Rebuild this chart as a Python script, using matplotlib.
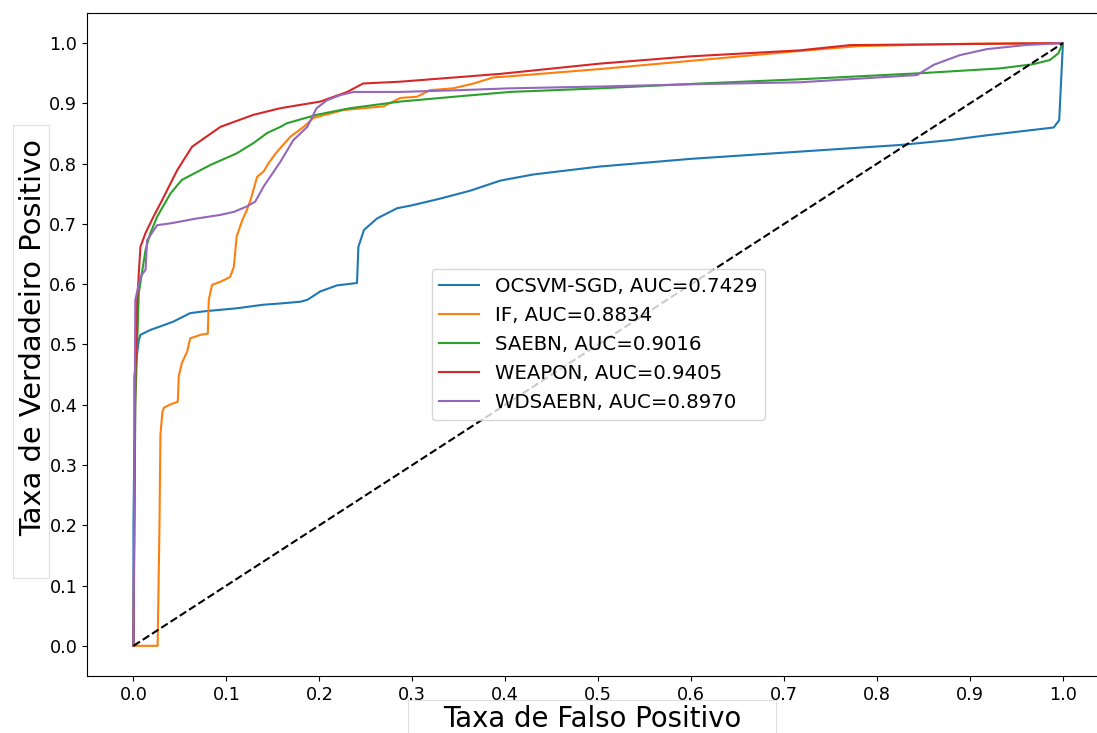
import matplotlib
matplotlib.use("Agg")
import matplotlib.pyplot as plt
from matplotlib.patches import Rectangle

# ROC points (fpr, tpr)
ocsvm_fpr = [0, 0.0, 0.001, 0.001, 0.0057, 0.0075, 0.018, 0.029, 0.043, 0.061, 0.076, 0.111, 0.14, 0.158,
             0.18, 0.187, 0.201, 0.219, 0.2405, 0.242, 0.248, 0.262, 0.2835, 0.3, 0.33, 0.362, 0.395, 0.43,
             0.5, 0.6, 0.717, 0.825, 0.878, 0.918, 0.968, 0.99, 0.996, 1.0]
ocsvm_tpr = [0, 0.2, 0.342, 0.447, 0.507, 0.516, 0.524, 0.53, 0.538, 0.552, 0.555, 0.56, 0.566, 0.568,
             0.571, 0.574, 0.588, 0.598, 0.602, 0.662, 0.69, 0.709, 0.726, 0.731, 0.742, 0.755, 0.772, 0.782,
             0.795, 0.808, 0.82, 0.831, 0.839, 0.847, 0.856, 0.86, 0.872, 1.0]

if_fpr = [0, 0.026, 0.028, 0.029, 0.031, 0.0326, 0.039, 0.0477, 0.0487, 0.052, 0.0577, 0.061, 0.072, 0.08,
          0.081, 0.0846, 0.0935, 0.104, 0.108, 0.111, 0.117, 0.122, 0.126, 0.133, 0.14, 0.145, 0.153, 0.158,
          0.169, 0.183, 0.194, 0.226, 0.269, 0.287, 0.305, 0.319, 0.344, 0.366, 0.387, 0.405, 0.502, 0.61,
          0.717, 0.78, 0.9, 1.0]
if_tpr = [0, 0, 0.2, 0.35, 0.386, 0.395, 0.4, 0.405, 0.447, 0.469, 0.488, 0.51, 0.516, 0.518,
          0.574, 0.599, 0.604, 0.612, 0.629, 0.679, 0.706, 0.723, 0.74, 0.778, 0.787, 0.8, 0.817, 0.826,
          0.845, 0.861, 0.876, 0.889, 0.895, 0.909, 0.911, 0.922, 0.925, 0.933, 0.943, 0.945, 0.957, 0.972,
          0.987, 0.995, 0.999, 1.0]

saebn_fpr = [0, 0.002, 0.0057, 0.013, 0.018, 0.0255, 0.04, 0.052, 0.083, 0.111, 0.129, 0.144, 0.158, 0.165,
             0.197, 0.233, 0.287, 0.352, 0.405, 0.502, 0.61, 0.717, 0.846, 0.932, 0.968, 0.986, 0.995, 1.0]
saebn_tpr = [0, 0.4, 0.585, 0.657, 0.684, 0.712, 0.751, 0.773, 0.798, 0.817, 0.834, 0.851, 0.861, 0.867,
             0.881, 0.892, 0.903, 0.912, 0.919, 0.925, 0.933, 0.94, 0.95, 0.958, 0.965, 0.972, 0.983, 1.0]

weapon_fpr = [0, 0.002, 0.004, 0.0075, 0.013, 0.0215, 0.031, 0.047, 0.063, 0.0935, 0.129, 0.158, 0.201,
              0.23, 0.247, 0.287, 0.395, 0.502, 0.599, 0.717, 0.771, 1.0]
weapon_tpr = [0, 0.45, 0.574, 0.662, 0.685, 0.712, 0.74, 0.789, 0.828, 0.861, 0.881, 0.892, 0.903,
              0.919, 0.933, 0.936, 0.949, 0.966, 0.978, 0.988, 0.9967, 1.0]

wdsaebn_fpr = [0, 0.001, 0.002, 0.0075, 0.013, 0.0147, 0.0255, 0.04, 0.068, 0.0935, 0.108, 0.122, 0.131,
               0.14, 0.151, 0.158, 0.172, 0.187, 0.197, 0.208, 0.223, 0.237, 0.287, 0.352, 0.405, 0.502,
               0.61, 0.717, 0.843, 0.861, 0.889, 0.918, 0.961, 1.0]
wdsaebn_tpr = [0, 0.3, 0.574, 0.612, 0.624, 0.673, 0.698, 0.701, 0.709, 0.715, 0.72, 0.729, 0.737,
               0.762, 0.787, 0.803, 0.839, 0.861, 0.892, 0.905, 0.914, 0.919, 0.919, 0.922, 0.925, 0.928,
               0.932, 0.935, 0.947, 0.964, 0.98, 0.99, 0.997, 1.0]

labels = ["OCSVM-SGD, AUC=0.7429", "IF, AUC=0.8834", "SAEBN, AUC=0.9016",
          "WEAPON, AUC=0.9405", "WDSAEBN, AUC=0.8970"]
curves = [(ocsvm_fpr, ocsvm_tpr), (if_fpr, if_tpr), (saebn_fpr, saebn_tpr),
          (weapon_fpr, weapon_tpr), (wdsaebn_fpr, wdsaebn_tpr)]
ticks = [0.0, 0.1, 0.2, 0.3, 0.4, 0.5, 0.6, 0.7, 0.8, 0.9, 1.0]

fig = plt.figure(figsize=(10.97, 7.33), dpi=100)
# axes run past the right edge, like the cropped original
ax = fig.add_axes([0.0793, 0.0778, 0.932, 0.9045])

for (x, y), label in zip(curves, labels):
    ax.plot(x, y, label=label, lw=1.5)
ax.plot([0, 1], [0, 1], 'k--', lw=1.5)

ax.set_xlim(-0.05, 1.05)
ax.set_ylim(-0.05, 1.05)
ax.set_xticks(ticks)
ax.set_yticks(ticks)
ax.tick_params(labelsize=12.7)
ax.spines['right'].set_visible(False)
ax.legend(loc='center', fontsize=14.2)

# axis labels sit in light boxes
fig.add_artist(Rectangle((0.3719, -0.01), 0.3355, 0.055, transform=fig.transFigure,
                         facecolor='white', edgecolor='#e0e0e0', lw=0.8))
fig.text(0.5397, 0.0082, "Taxa de Falso Positivo", fontsize=19.8, ha='center', va='baseline')
fig.add_artist(Rectangle((0.01185, 0.2115), 0.0328, 0.618, transform=fig.transFigure,
                         facecolor='white', edgecolor='#e0e0e0', lw=0.8))
fig.text(0.030, 0.540, "Taxa de Verdadeiro Positivo", fontsize=20.8, rotation=90,
         ha='center', va='center')

fig.savefig("out.png", dpi=100)
